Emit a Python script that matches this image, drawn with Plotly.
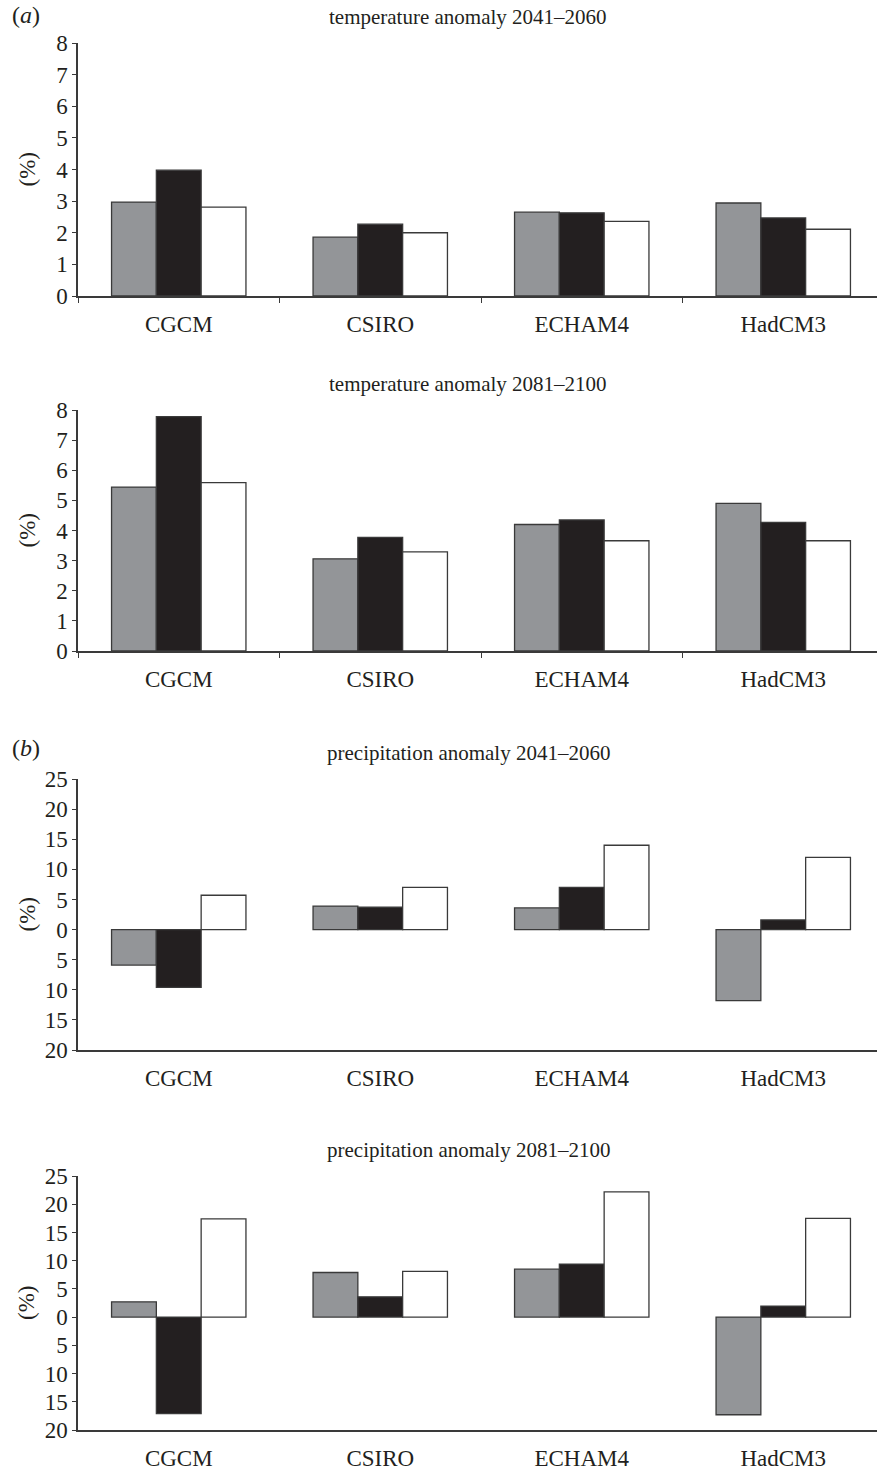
import plotly.graph_objects as go

W, H = 877, 1471

models = ["CGCM", "CSIRO", "ECHAM4", "HadCM3"]
series_names = ["series 1", "series 2", "series 3"]
series_colors = ["#939598", "#231f20", "#ffffff"]

temp_2041_2060 = [
    [2.97, 1.86, 2.65, 2.94],
    [3.98, 2.27, 2.63, 2.47],
    [2.81, 2.00, 2.36, 2.11],
]
temp_2081_2100 = [
    [5.44, 3.06, 4.20, 4.90],
    [7.78, 3.77, 4.35, 4.27],
    [5.59, 3.29, 3.66, 3.66],
]
prec_2041_2060 = [
    [-5.9, 3.9, 3.6, -11.8],
    [-9.6, 3.7, 7.0, 1.6],
    [5.7, 7.0, 14.0, 12.0],
]
prec_2081_2100 = [
    [2.7, 7.9, 8.5, -17.3],
    [-17.1, 3.6, 9.4, 1.95],
    [17.4, 8.1, 22.2, 17.5],
]

titles = [
    "temperature anomaly 2041–2060",
    "temperature anomaly 2081–2100",
    "precipitation anomaly 2041–2060",
    "precipitation anomaly 2081–2100",
]
panel_data = [temp_2041_2060, temp_2081_2100, prec_2041_2060, prec_2081_2100]

temp_ticks = [0, 1, 2, 3, 4, 5, 6, 7, 8]
prec_ticks = [-20, -15, -10, -5, 0, 5, 10, 15, 20, 25]
prec_tick_text = [str(abs(v)) for v in prec_ticks]
y_ranges = [[0, 8], [0, 8], [-20, 25], [-20, 25]]

# pixel layout (top, bottom) of each plot area
px_rows = [(43, 296), (410, 651), (779, 1050), (1176, 1430)]
x_left_px, x_right_px = 78, 877
cat_w_px = 201.5
x_range = [-0.5, (x_right_px - x_left_px) / cat_w_px - 0.5]

FONT = "Liberation Serif"
INK = "#231f20"
LINE = "#3a3a3a"
FS_TICK = 23
FS_TITLE = 21

fig = go.Figure()
for p, data in enumerate(panel_data):
    xa = "x" if p == 0 else f"x{p+1}"
    ya = "y" if p == 0 else f"y{p+1}"
    for s in range(3):
        fig.add_trace(go.Bar(
            x=models, y=data[s], name=series_names[s],
            marker=dict(color=series_colors[s], line=dict(color=LINE, width=1.3)),
            xaxis=xa, yaxis=ya, showlegend=False,
        ))

layout = dict(
    template="none",
    width=W, height=H,
    margin=dict(l=0, r=0, t=0, b=0, pad=0),
    paper_bgcolor="white", plot_bgcolor="white",
    barmode="group", bargap=0.333, bargroupgap=0,
    font=dict(family=FONT, size=FS_TICK, color=INK),
    annotations=[],
)

xd = [x_left_px / W, x_right_px / W]
for p in range(4):
    top, bot = px_rows[p]
    yd = [1 - bot / H, 1 - top / H]
    sx = "" if p == 0 else str(p + 1)
    is_prec = p >= 2
    layout[f"xaxis{sx}"] = dict(
        domain=xd, anchor=f"y{sx}", type="category",
        categoryorder="array", categoryarray=models,
        range=x_range, showline=True, linecolor=LINE, linewidth=1.5,
        ticks="" if is_prec else "outside", tickson="boundaries",
        ticklen=5, tickcolor=LINE, tickwidth=1.2,
        ticklabelstandoff=7,
        showgrid=False, zeroline=False, automargin=False,
        tickfont=dict(family=FONT, size=FS_TICK, color=INK),
    )
    ya = dict(
        domain=yd, anchor=f"x{sx}", range=y_ranges[p],
        showline=True, linecolor=LINE, linewidth=1.5,
        ticks="outside", ticklen=4, tickcolor=LINE, tickwidth=1.2,
        showgrid=False, zeroline=False, automargin=False,
        tickfont=dict(family=FONT, size=FS_TICK, color=INK),
    )
    if is_prec:
        ya.update(tickmode="array", tickvals=prec_ticks, ticktext=prec_tick_text)
    else:
        ya.update(tickmode="array", tickvals=temp_ticks)
    layout[f"yaxis{sx}"] = ya

    layout["annotations"].append(dict(
        text=titles[p], xref="paper", yref="paper",
        x=468 / W, y=yd[1] + 26 / H, xanchor="center", yanchor="middle",
        showarrow=False, font=dict(family=FONT, size=FS_TITLE, color=INK),
    ))
    layout["annotations"].append(dict(
        text="(%)", xref="paper", yref="paper",
        x=27 / W, y=(yd[0] + yd[1]) / 2, xanchor="center", yanchor="middle",
        textangle=-90, showarrow=False, font=dict(family=FONT, size=23, color=INK),
    ))

    if is_prec:
        y0, y1 = y_ranges[p]
        pos = yd[0] + (0 - y0) / (y1 - y0) * (yd[1] - yd[0])
        n = 5 + (p - 2)
        layout[f"xaxis{n}"] = dict(
            overlaying=f"x{sx}", anchor="free", position=pos,
            range=x_range, tickmode="array",
            tickvals=[i + 0.5 for i in range(len(models) - 1)],
            ticks="outside", ticklen=5, tickcolor=LINE, tickwidth=1.2,
            showticklabels=False, showline=True, linecolor=LINE, linewidth=1.2,
            showgrid=False, zeroline=False, automargin=False,
        )

for lbl, ypx in [("(<i>a</i>)", 15), ("(<i>b</i>)", 748)]:
    layout["annotations"].append(dict(
        text=lbl, xref="paper", yref="paper", x=10 / W, y=1 - ypx / H,
        xanchor="left", yanchor="middle", showarrow=False,
        font=dict(family=FONT, size=24, color=INK),
    ))

fig.update_layout(**layout)
fig.write_html("out.html")
